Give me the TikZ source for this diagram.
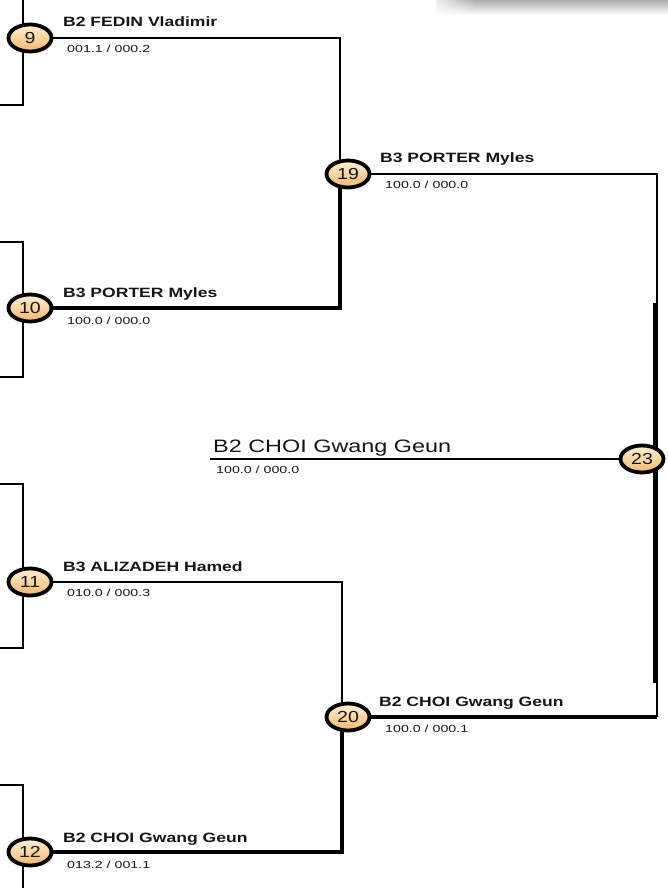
\documentclass[tikz,border=0pt]{standalone}
\usepackage{fontspec}
\setmainfont{Liberation Sans}
\newfontfamily\namefont{Liberation Sans}[FakeStretch=1.3]
\newfontfamily\scorefont{Liberation Sans}[FakeStretch=1.38]
\newfontfamily\numfont{Liberation Sans}[FakeStretch=1.22]
\usetikzlibrary{shapes.geometric,backgrounds,fadings}
\definecolor{ballTop}{HTML}{FEF0D6}
\definecolor{ballBot}{HTML}{F2B86C}
\definecolor{ink}{HTML}{151515}
\begin{document}
\begin{tikzpicture}[x=1pt,y=-1pt,
  ball/.style={ellipse, draw=black, line width=3.8pt, minimum width=43pt, minimum height=27pt,
    inner sep=0pt, top color=ballTop, bottom color=ballBot, text=ink,
    font=\numfont\fontsize{16}{16}\selectfont},
  pname/.style={anchor=base west, inner sep=0pt, text=ink,
    font=\namefont\bfseries\fontsize{13.5}{14}\selectfont},
  bigname/.style={anchor=base west, inner sep=0pt, text=ink,
    font=\namefont\fontsize{18}{18}\selectfont},
  pscore/.style={anchor=base west, inner sep=0pt, text=ink,
    font=\scorefont\fontsize{10.3}{11}\selectfont},
  lose/.style={draw=black, line width=2.8pt},
  win/.style={draw=black, line width=4.6pt}]
\useasboundingbox (0,0) rectangle (668,888);

% balls
\node[ball] (n9)  at (30,38)  {9};
\node[ball] (n10) at (30,308) {10};
\node[ball] (n11) at (30,582) {11};
\node[ball] (n12) at (30,852) {12};
\node[ball] (n19) at (348,174) {19};
\node[ball] (n20) at (348,717) {20};
\node[ball] (n23) at (642,459) {23};

% names and scores
\node[pname]  (t9)  at (63,27)  {B2 FEDIN Vladimir};
\node[pscore] (s9)  at (67,53)  {001.1 / 000.2};
\node[pname]  (t10) at (63,297) {B3 PORTER Myles};
\node[pscore] (s10) at (67,324) {100.0 / 000.0};
\node[pname]  (t11) at (63,571) {B3 ALIZADEH Hamed};
\node[pscore] (s11) at (67,596) {010.0 / 000.3};
\node[pname]  (t12) at (63,842) {B2 CHOI Gwang Geun};
\node[pscore] (s12) at (67,868) {013.2 / 001.1};
\node[pname]  (t19) at (380,162) {B3 PORTER Myles};
\node[pscore] (s19) at (385,188) {100.0 / 000.0};
\node[pname]  (t20) at (379,706) {B2 CHOI Gwang Geun};
\node[pscore] (s20) at (385,732) {100.0 / 000.1};
\node[bigname] (t23) at (213,452) {B2 CHOI Gwang Geun};
\node[pscore]  (s23) at (216,473) {100.0 / 000.0};

% junction and free-end coordinates
\coordinate (j19) at (340,174);
\coordinate (j20) at (342,717);
\coordinate (j23) at (657,459);
\coordinate (r19) at (657,174);
\coordinate (r20) at (657,717);
\coordinate (w1) at (655.5,303);
\coordinate (w2) at (655.5,683);
\coordinate (st23) at (210,459);
\coordinate (a1) at (23,0);   \coordinate (a2) at (23,105);  \coordinate (a3) at (0,105);
\coordinate (b1) at (0,242);  \coordinate (b2) at (23,242);  \coordinate (b3) at (23,377); \coordinate (b4) at (0,377);
\coordinate (c1) at (0,484);  \coordinate (c2) at (23,484);  \coordinate (c3) at (23,648); \coordinate (c4) at (0,648);
\coordinate (d1) at (0,785);  \coordinate (d2) at (23,785);  \coordinate (d3) at (23,888);

\begin{scope}[on background layer]
  % shadow at top right
  \fill[black!32, path fading=south] (436,0) rectangle (668,15);
  \fill[white, path fading=east] (424,-1) rectangle (476,17);
  % left brackets
  \draw[lose] (a1) -- (a2) -- (a3);
  \draw[lose] (b1) -- (b2) -- (b3) -- (b4);
  \draw[lose] (c1) -- (c2) -- (c3) -- (c4);
  \draw[lose] (d1) -- (d2) -- (d3);
  % upper half
  \draw[lose] (n9) -| (j19);
  \draw[win]  (n10) -| (j19) -- (n19);
  % lower half
  \draw[lose] (n11) -| (j20);
  \draw[win]  (n12) -| (j20) -- (n20);
  % final
  \draw[lose] (n19) -- (r19) -- (r20);
  \draw[win]  (n20) -- (r20);
  \draw[line width=4.8pt] (w1) -- (w2);
  \draw[lose] (st23) -- (n23);
\end{scope}
\end{tikzpicture}
\end{document}
